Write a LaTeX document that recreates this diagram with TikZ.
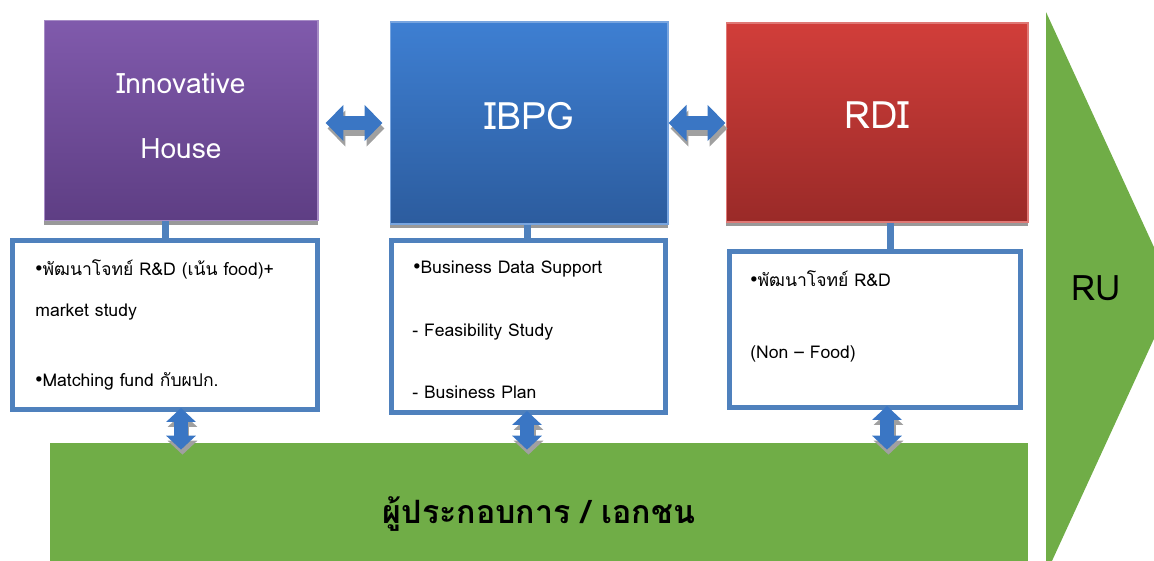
\documentclass[tikz,border=0pt]{standalone}
\usepackage{fontspec}
\setmainfont[Script=Thai]{Loma}
\usetikzlibrary{positioning, calc, arrows.meta, shadows}

\definecolor{houseTop}{RGB}{128,90,172}
\definecolor{houseBot}{RGB}{94,62,132}
\definecolor{ibpgTop}{RGB}{62,127,210}
\definecolor{ibpgBot}{RGB}{44,92,158}
\definecolor{rdiTop}{RGB}{209,62,58}
\definecolor{rdiBot}{RGB}{154,42,40}
\definecolor{noteBlue}{RGB}{79,129,189}
\definecolor{linkBlue}{RGB}{58,118,196}
\definecolor{shadeGray}{RGB}{160,160,160}
\definecolor{ruGreen}{RGB}{112,173,71}

\newcommand{\dotmark}{\raisebox{0.35ex}{$\scriptstyle\bullet$}}

\begin{document}
\begin{tikzpicture}[x=0.02cm, y=-0.02cm,
		UnitBox/.style={rectangle, draw=#1Top!70!white, line width=0.6pt, top color=#1Top, bottom color=#1Bot,
			text=white, align=center, drop shadow={shadow xshift=0cm, shadow yshift=-0.09cm, fill=black!40, opacity=1}},
		NoteBox/.style={rectangle, draw=noteBlue, line width=0.1cm, fill=white},
		NoteText/.style={anchor=base west, inner sep=0pt, font=\fontsize{10}{12}\selectfont},
		Stem/.style={draw=noteBlue, line width=0.14cm},
		HLink/.style={draw=linkBlue, line width=0.3cm, {Triangle[length=0.36cm, width=0.7cm]}-{Triangle[length=0.36cm, width=0.7cm]}},
		HShade/.style={HLink, draw=shadeGray, transform canvas={shift={(0.04cm,-0.11cm)}}},
		VLink/.style={draw=linkBlue, line width=0.28cm, shorten <=-0.08cm, shorten >=-0.14cm, {Triangle[length=0.28cm, width=0.58cm]}-{Triangle[length=0.28cm, width=0.58cm]}},
		VShade/.style={VLink, draw=shadeGray, transform canvas={shift={(0.03cm,-0.1cm)}}}]

	\path[use as bounding box] (0,0) rectangle (1154,561);
	\clip (0,0) rectangle (1154,561);

	% top units
	\node[UnitBox=house, minimum width=5.48cm, minimum height=4cm, text depth=0.2cm, font=\fontsize{16}{37}\selectfont] (house) at (181,120.5) {Innovative\\House};
	\node[UnitBox=ibpg, minimum width=5.56cm, minimum height=4.04cm, text depth=0.28cm, font=\fontsize{21.5}{26}\selectfont] (ibpg) at (529,123) {IBPG};
	\node[UnitBox=rdi, minimum width=6.04cm, minimum height=3.98cm, text depth=0.28cm, font=\fontsize{21.5}{26}\selectfont] (rdi) at (877,122.5) {RDI};

	% RU chevron
	\fill[ruGreen] (1046,12) -- (1175,293) -- (1046,574) -- cycle;
	\node[font=\fontsize{20}{24}\selectfont] (ru) at (1096,288) {RU};

	% private sector bar
	\node[rectangle, fill=ruGreen, minimum width=19.56cm, minimum height=2.84cm, font=\bfseries\fontsize{18.3}{22}\selectfont] (firm) at (539,514) {ผู้ประกอบการ / เอกชน};

	% note boxes
	\node[NoteBox, minimum width=6.1cm, minimum height=3.38cm] (note1) at (165,325) {};
	\node[NoteBox, minimum width=5.48cm, minimum height=3.44cm] (note2) at (528.5,326.5) {};
	\node[NoteBox, minimum width=5.82cm, minimum height=3.12cm] (note3) at (875,329.5) {};

	\draw[Stem] ([xshift=-0.32cm]house.south) -- ([xshift=-0.32cm]house.south |- note1.north);
	\draw[Stem] ([xshift=-0.04cm]ibpg.south) -- ([xshift=-0.04cm]ibpg.south |- note2.north);
	\draw[Stem] ([xshift=0.26cm]rdi.south) -- ([xshift=0.26cm]rdi.south |- note3.north);

	\node[NoteText] (n1a) at ($(note1.north west)+(25,37)$) {\dotmark พัฒนาโจทย์ R\&D (เน้น food)+};
	\node[NoteText] (n1b) at ($(note1.north west)+(25,78)$) {market study};
	\node[NoteText] (n1c) at ($(note1.north west)+(25,148)$) {\dotmark Matching fund กับผปก.};

	\node[NoteText] (n2a) at ($(note2.north west)+(24,35)$) {\dotmark Business Data Support};
	\node[NoteText] (n2b) at ($(note2.north west)+(23,98)$) {- Feasibility Study};
	\node[NoteText] (n2c) at ($(note2.north west)+(23,160)$) {- Business Plan};

	\node[NoteText] (n3a) at ($(note3.north west)+(23,37)$) {\dotmark พัฒนาโจทย์ R\&D};
	\node[NoteText] (n3b) at ($(note3.north west)+(23,109)$) {(Non -- Food)};

	% links between units
	\draw[HShade, shorten <=0.14cm, shorten >=0.14cm] (house.east |- ibpg.west) -- (ibpg.west);
	\draw[HLink, shorten <=0.14cm, shorten >=0.14cm] (house.east |- ibpg.west) -- (ibpg.west);
	\draw[HShade] (ibpg.east) -- (ibpg.east -| rdi.west);
	\draw[HLink] (ibpg.east) -- (ibpg.east -| rdi.west);

	% links down to the bar
	\foreach \n/\dx in {note1/0.32cm, note2/-0.03cm, note3/0.24cm}{
		\draw[VShade] ([xshift=\dx]\n.south) -- ([xshift=\dx]\n.south |- firm.north);
		\draw[VLink] ([xshift=\dx]\n.south) -- ([xshift=\dx]\n.south |- firm.north);
	}
\end{tikzpicture}
\end{document}
